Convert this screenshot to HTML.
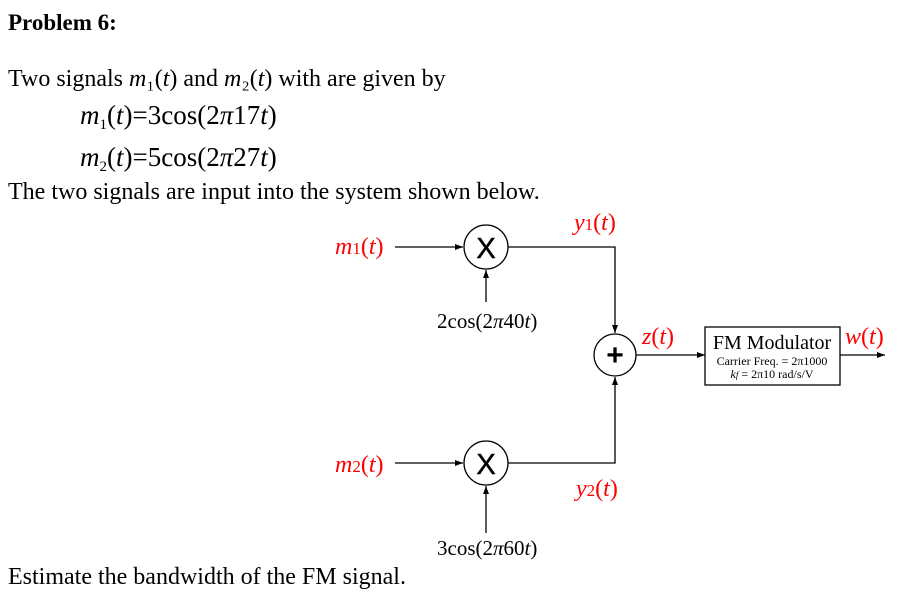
<!DOCTYPE html>
<html><head><meta charset="utf-8"><style>
html,body{margin:0;padding:0;background:#fff;}
svg{display:block;font-family:"Liberation Serif",serif;}
</style></head><body>
<svg width="901" height="598" viewBox="0 0 901 598" xmlns="http://www.w3.org/2000/svg">
<defs><marker id="a" markerWidth="8" markerHeight="6" refX="8" refY="3" orient="auto" markerUnits="userSpaceOnUse"><path d="M0,0 L8,3 L0,6 z" fill="#000"/></marker></defs>
<text x="8" y="30" font-size="23" font-weight="bold">Problem 6:</text>
<text x="8" y="86" font-size="24">Two signals <tspan font-style="italic">m</tspan>₁(<tspan font-style="italic">t</tspan>) and <tspan font-style="italic">m</tspan>₂(<tspan font-style="italic">t</tspan>) with are given by</text>
<text x="80" y="124" font-size="27"><tspan font-style="italic">m</tspan><tspan font-size="15" dy="5">1</tspan><tspan dy="-5">(</tspan><tspan font-style="italic">t</tspan>)=3cos(2<tspan font-style="italic">π</tspan>17<tspan font-style="italic">t</tspan>)</text>
<text x="80" y="166" font-size="27"><tspan font-style="italic">m</tspan><tspan font-size="15" dy="5">2</tspan><tspan dy="-5">(</tspan><tspan font-style="italic">t</tspan>)=5cos(2<tspan font-style="italic">π</tspan>27<tspan font-style="italic">t</tspan>)</text>
<text x="8" y="199" font-size="24">The two signals are input into the system shown below.</text>
<text x="8" y="584" font-size="24">Estimate the bandwidth of the FM signal.</text>
<g stroke="#000" stroke-width="1.3" fill="none">
<line x1="395" y1="247" x2="463" y2="247" marker-end="url(#a)"/>
<circle cx="486" cy="247" r="22"/>
<polyline points="508,247 615,247 615,333" marker-end="url(#a)"/>
<line x1="486" y1="302" x2="486" y2="270" marker-end="url(#a)"/>
<circle cx="615" cy="355" r="21"/>
<line x1="636" y1="355" x2="705" y2="355" marker-end="url(#a)"/>
<rect x="705" y="327" width="135" height="58"/>
<line x1="840" y1="355" x2="885" y2="355" marker-end="url(#a)"/>
<line x1="395" y1="463" x2="463" y2="463" marker-end="url(#a)"/>
<circle cx="486" cy="463" r="22"/>
<polyline points="508,463 615,463 615,377" marker-end="url(#a)"/>
<line x1="486" y1="533" x2="486" y2="486" marker-end="url(#a)"/>
</g>
<text x="486" y="258" font-size="29" text-anchor="middle" font-family="Liberation Sans,sans-serif" stroke="#000" stroke-width="0.5">X</text>
<text x="486" y="474" font-size="29" text-anchor="middle" font-family="Liberation Sans,sans-serif" stroke="#000" stroke-width="0.5">X</text>
<text x="615" y="365" font-size="30" text-anchor="middle" font-family="Liberation Sans,sans-serif" font-weight="bold">+</text>
<g fill="#f00" font-size="24">
<text x="335" y="254"><tspan font-style="italic">m</tspan><tspan font-size="17">1</tspan>(<tspan font-style="italic">t</tspan>)</text>
<text x="335" y="472"><tspan font-style="italic">m</tspan><tspan font-size="17">2</tspan>(<tspan font-style="italic">t</tspan>)</text>
<text x="574" y="230"><tspan font-style="italic">y</tspan><tspan font-size="17">1</tspan>(<tspan font-style="italic">t</tspan>)</text>
<text x="576" y="496"><tspan font-style="italic">y</tspan><tspan font-size="17">2</tspan>(<tspan font-style="italic">t</tspan>)</text>
<text x="642" y="344"><tspan font-style="italic">z</tspan>(<tspan font-style="italic">t</tspan>)</text>
<text x="845" y="344"><tspan font-style="italic">w</tspan>(<tspan font-style="italic">t</tspan>)</text>
</g>
<text x="437" y="328" font-size="21">2cos(2<tspan font-style="italic">π</tspan>40<tspan font-style="italic">t</tspan>)</text>
<text x="437" y="555" font-size="21">3cos(2<tspan font-style="italic">π</tspan>60<tspan font-style="italic">t</tspan>)</text>
<text x="772" y="349" font-size="20" text-anchor="middle">FM Modulator</text>
<text x="772" y="365" font-size="12" text-anchor="middle">Carrier Freq. = 2π1000</text>
<text x="772" y="378" font-size="12" text-anchor="middle"><tspan font-style="italic">k</tspan><tspan font-size="9" font-style="italic">f</tspan> = 2π10  rad/s/V</text>
</svg>
</body></html>
